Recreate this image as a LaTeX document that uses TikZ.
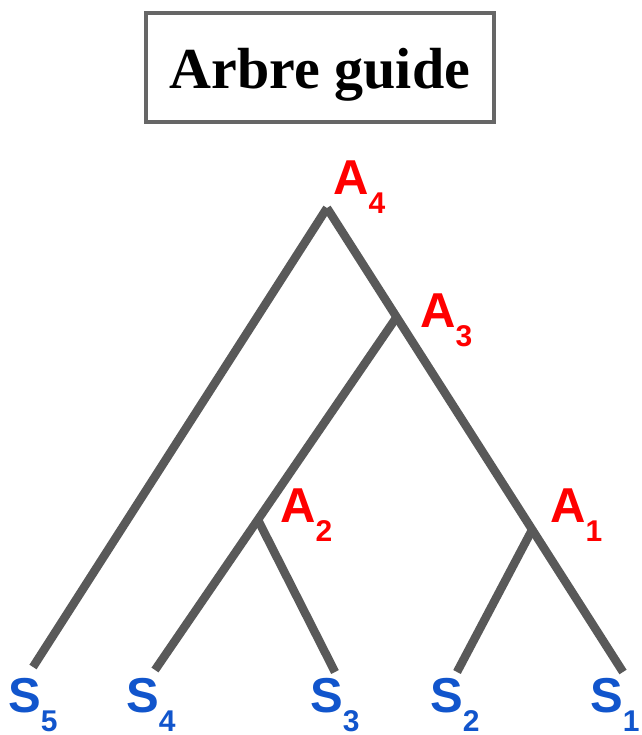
\documentclass[tikz,border=0pt]{standalone}
\usepackage{fontspec}
\setmainfont{Liberation Serif}
\newfontfamily\labelfont{Liberation Sans}
\usepackage{tikz}
\definecolor{branch}{HTML}{595959}
\definecolor{frame}{HTML}{666666}
\definecolor{inner}{HTML}{FF0000}
\definecolor{leaf}{HTML}{1155CC}
\newcommand{\treelab}[2]{#1\raisebox{-19pt}{\fontsize{30}{30}\selectfont #2}}

\begin{document}
\begin{tikzpicture}[x=1pt,y=-1pt,
  branch/.style={draw=branch,line width=8.5pt},
  titlebox/.style={draw=frame,line width=4pt,minimum width=348pt,minimum height=109pt,inner sep=0pt},
  anc/.style={text=inner,font=\labelfont\bfseries\fontsize{49}{49}\selectfont,inner sep=0pt,anchor=base west},
  seq/.style={anc,text=leaf}]
  \useasboundingbox (0,0) rectangle (641,735);
  \node[titlebox] (box) at (320,67.5) {};
  \node[anchor=base,inner sep=0pt,font=\bfseries\fontsize{58}{58}\selectfont] (title) at (320,89) {Arbre guide};
  \coordinate (a4) at (327,208);
  \coordinate (a3) at (396,318);
  \coordinate (a2) at (258,520);
  \coordinate (a1) at (532,530);
  \coordinate (s5) at (33,667);
  \coordinate (s4) at (155,670);
  \coordinate (s3) at (335,672);
  \coordinate (s2) at (457,672);
  \coordinate (s1) at (623,672);
  \draw[branch] (a4) -- (s5);
  \draw[branch] (a4) -- (s1);
  \draw[branch] (a3) -- (s4);
  \draw[branch] (a2) -- (s3);
  \draw[branch] (a1) -- (s2);
  \node[anc] (la4) at (333,195) {\treelab{A}{4}};
  \node[anc] (la3) at (420,327) {\treelab{A}{3}};
  \node[anc] (la2) at (280,522) {\treelab{A}{2}};
  \node[anc] (la1) at (550,522) {\treelab{A}{1}};
  \foreach \n/\x in {5/8,4/126,3/310,2/430,1/590}
    \node[seq] (ls\n) at (\x,712) {\treelab{S}{\n}};
\end{tikzpicture}
\end{document}
